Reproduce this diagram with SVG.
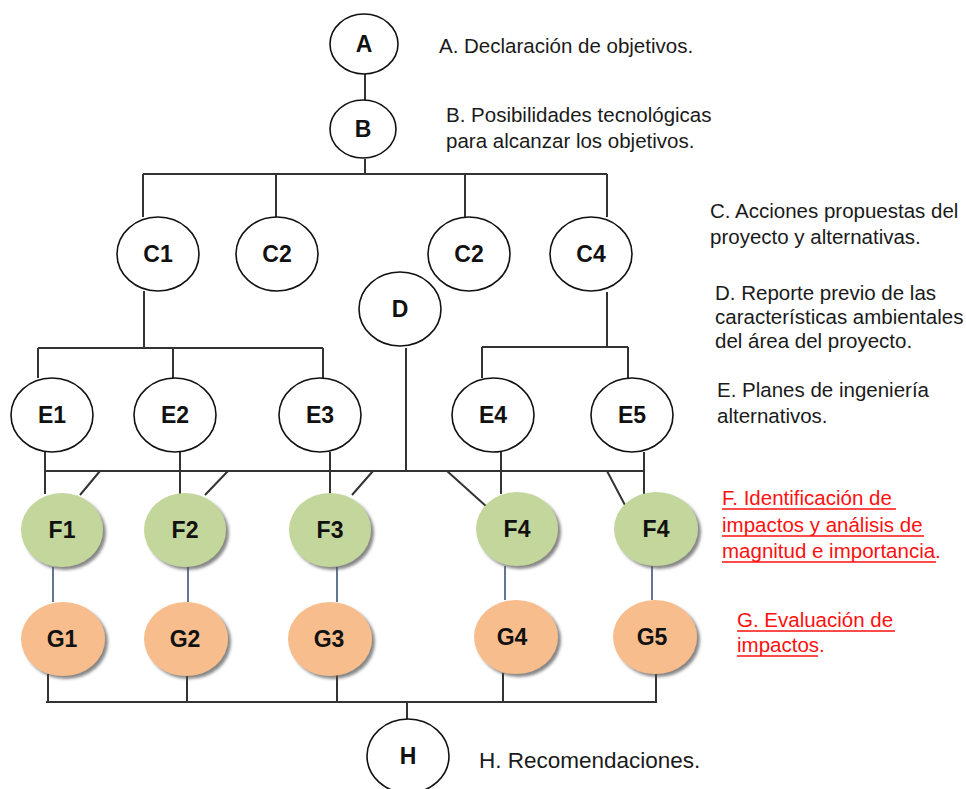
<svg xmlns="http://www.w3.org/2000/svg" width="966" height="789" viewBox="0 0 966 789">
<defs>
<filter id="sh" x="-20%" y="-20%" width="150%" height="150%">
<feDropShadow dx="3" dy="3" stdDeviation="1.8" flood-color="#555" flood-opacity="0.7"/>
</filter>
</defs>
<style>
.n{fill:#fff;stroke:#111;stroke-width:1.6}
.f{fill:#c3d69b;filter:url(#sh)}
.g{fill:#f8bd8c;filter:url(#sh)}
.lb{font-family:"Liberation Sans",Arial,sans-serif;font-weight:bold;font-size:23px;fill:#111;text-anchor:middle}
.tx{font-family:"Liberation Sans",Arial,sans-serif;font-size:20.5px;fill:#1a1a1a}
.red{font-family:"Liberation Sans",Arial,sans-serif;font-size:20.5px;fill:#ff1010}
.c{fill:none;stroke:#333;stroke-width:2}
.cb{fill:none;stroke:#3b5575;stroke-width:1.6}
.ul{stroke:#ff1010;stroke-width:1.6}
</style>
<rect width="966" height="789" fill="#fff"/>
<g id="connectors">
<path class="c" d="M365 74V100M365 159V174M143 174H607M143 174V217M276 174V217M465 174V217M607 174V217"/>
<path class="c" d="M144 291V348M38 348H323M38 348V378M173 348V378M323 348V378"/>
<path class="c" d="M607 292V347M482 347H628M482 347V378M628 347V378"/>
<path class="c" d="M406 348V471M45 471H645"/>
<path class="c" d="M45 452V494M180 452V494M330 452V494M501 452V494M644 452V494"/>
<path class="c" d="M100 471L80 495M228 471L205 495M373 471L352 495M447 471L487 507M607 471L626 507"/>
<path class="cb" d="M53 567V602M188 567V602M337 567V602M505 566V600M652 566V600"/>
<path class="c" d="M48 674V702M187 675V702M337 675V702M503 673V702M656 673V702M46 702H657M407 702V720"/>
</g>
<g id="A"><ellipse class="n" cx="364" cy="44" rx="34" ry="30"/><text class="lb" x="364" y="52">A</text></g>
<g id="B"><ellipse class="n" cx="363" cy="129" rx="33" ry="29"/><text class="lb" x="363" y="137">B</text></g>
<g id="C1"><ellipse class="n" cx="158" cy="254" rx="41" ry="37"/><text class="lb" x="158" y="262">C1</text></g>
<g id="C2a"><ellipse class="n" cx="277" cy="254" rx="41" ry="37"/><text class="lb" x="277" y="262">C2</text></g>
<g id="C2b"><ellipse class="n" cx="469" cy="254" rx="41" ry="37"/><text class="lb" x="469" y="262">C2</text></g>
<g id="C4"><ellipse class="n" cx="591" cy="254" rx="41" ry="37"/><text class="lb" x="591" y="262">C4</text></g>
<g id="D"><ellipse class="n" cx="400" cy="309" rx="41" ry="37"/><text class="lb" x="400" y="317">D</text></g>
<g id="E1"><ellipse class="n" cx="52" cy="415" rx="41" ry="37"/><text class="lb" x="52" y="423">E1</text></g>
<g id="E2"><ellipse class="n" cx="175" cy="415" rx="41" ry="37"/><text class="lb" x="175" y="423">E2</text></g>
<g id="E3"><ellipse class="n" cx="320" cy="415" rx="41" ry="37"/><text class="lb" x="320" y="423">E3</text></g>
<g id="E4"><ellipse class="n" cx="493" cy="415" rx="41" ry="37"/><text class="lb" x="493" y="423">E4</text></g>
<g id="E5"><ellipse class="n" cx="632" cy="415" rx="41" ry="37"/><text class="lb" x="632" y="423">E5</text></g>
<g id="F1"><ellipse class="f" cx="62" cy="530" rx="41" ry="37"/><text class="lb" x="62" y="538">F1</text></g>
<g id="F2"><ellipse class="f" cx="185" cy="530" rx="41" ry="37"/><text class="lb" x="185" y="538">F2</text></g>
<g id="F3"><ellipse class="f" cx="330" cy="530" rx="41" ry="37"/><text class="lb" x="330" y="538">F3</text></g>
<g id="F4a"><ellipse class="f" cx="517" cy="529" rx="41" ry="37"/><text class="lb" x="517" y="537">F4</text></g>
<g id="F4b"><ellipse class="f" cx="656" cy="529" rx="42" ry="37"/><text class="lb" x="656" y="537">F4</text></g>
<g id="G1"><ellipse class="g" cx="63" cy="639" rx="42" ry="37"/><text class="lb" x="62" y="647">G1</text></g>
<g id="G2"><ellipse class="g" cx="186" cy="639" rx="42" ry="37"/><text class="lb" x="185" y="647">G2</text></g>
<g id="G3"><ellipse class="g" cx="330" cy="639" rx="42" ry="37"/><text class="lb" x="329" y="647">G3</text></g>
<g id="G4"><ellipse class="g" cx="516" cy="637" rx="42" ry="37"/><text class="lb" x="512" y="645">G4</text></g>
<g id="G5"><ellipse class="g" cx="655" cy="637" rx="42" ry="37"/><text class="lb" x="652" y="645">G5</text></g>
<g id="H"><ellipse class="n" cx="408" cy="756" rx="41" ry="37"/><text class="lb" x="408" y="764">H</text></g>
<g id="legend">
<text class="tx" x="439" y="53">A. Declaración de objetivos.</text>
<text class="tx" x="446" y="122">B. Posibilidades tecnológicas</text>
<text class="tx" x="446" y="148">para alcanzar los objetivos.</text>
<text class="tx" x="710" y="218">C. Acciones propuestas del</text>
<text class="tx" x="710" y="244">proyecto y alternativas.</text>
<text class="tx" x="715" y="300">D. Reporte previo de las</text>
<text class="tx" x="715" y="324">características ambientales</text>
<text class="tx" x="715" y="348">del área del proyecto.</text>
<text class="tx" x="717" y="397">E. Planes de ingeniería</text>
<text class="tx" x="717" y="423">alternativos.</text>
<text class="red" x="722" y="505">F. Identificación de</text>
<text class="red" x="722" y="532">impactos y análisis de</text>
<text class="red" x="722" y="558">magnitud e importancia.</text>
<text class="red" x="737" y="627">G. Evaluación de</text>
<text class="red" x="737" y="652">impactos.</text>
<path class="ul" d="M722 509H896M722 536H924M722 562H936M737 631H895M737 656H818"/>
<text class="tx" x="479" y="768" style="font-size:22.5px">H. Recomendaciones.</text>
</g>
</svg>
